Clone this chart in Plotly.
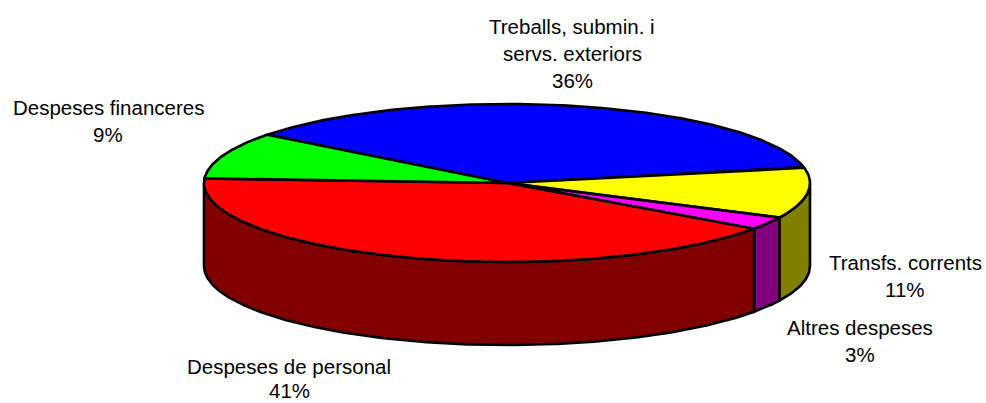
import math
import plotly.graph_objects as go

categories = ["Treballs, submin. i servs. exteriors", "Transfs. corrents", "Altres despeses",
              "Despeses de personal", "Despeses financeres"]
# slice shares as drawn in the picture, and the printed labels
shares = [36.3, 10.45, 2.6, 41.1, 9.55]
percent_labels = ["36%", "11%", "3%", "41%", "9%"]
top_colors = ["#0000FF", "#FFFF00", "#FF00FF", "#FF0000", "#00FF00"]
side_colors = ["#000080", "#808000", "#800080", "#800000", "#008000"]
label_lines = [["Treballs, submin. i", "servs. exteriors"], ["Transfs. corrents"], ["Altres despeses"],
               ["Despeses de personal"], ["Despeses financeres"]]
label_x = [572, 905, 860, 289, 108]
label_y = [26, 262, 327, 366, 107]
label_gap = [27, 27, 27, 24, 27]

CX, CY, RX, RY, DEPTH, START = 507, 183, 303, 79, 83, 217.7
FONT = "Liberation Sans"
OUTLINE = 2.6


def arc(a0, a1, dy=0):
    n = max(2, int(abs(a1 - a0) * 2) + 1)
    xs, ys = [], []
    for i in range(n):
        t = math.radians(a0 + (a1 - a0) * i / (n - 1))
        xs.append(CX + RX * math.cos(t))
        ys.append(CY + RY * math.sin(t) + dy)
    return xs, ys


fig = go.Figure()
total = sum(shares)
spans = []
a = START
for s in shares:
    b = a + s / total * 360
    spans.append((a, b))
    a = b

# side walls
for (a0, b0), col in zip(spans, side_colors):
    for k in (0, 360):
        lo, hi = max(a0, k), min(b0, k + 180)
        if hi > lo:
            x1, y1 = arc(lo, hi)
            x2, y2 = arc(hi, lo, DEPTH)
            fig.add_trace(go.Scatter(x=x1 + x2 + x1[:1], y=y1 + y2 + y1[:1], mode="lines", fill="toself",
                                     fillcolor=col, line=dict(color="black", width=OUTLINE), hoverinfo="skip"))

# top faces
for (a0, b0), col in zip(spans, top_colors):
    x1, y1 = arc(a0, b0)
    fig.add_trace(go.Scatter(x=[CX] + x1 + [CX], y=[CY] + y1 + [CY], mode="lines", fill="toself",
                             fillcolor=col, line=dict(color="black", width=OUTLINE), hoverinfo="skip"))

# labels
for lines, pct, lx, ly, gap in zip(label_lines, percent_labels, label_x, label_y, label_gap):
    for i, t in enumerate(lines + [pct]):
        fig.add_annotation(x=lx, y=ly + i * gap, text=t, showarrow=False, xanchor="center", yanchor="middle",
                           font=dict(family=FONT, size=20.5, color="black"))

fig.update_layout(width=986, height=403, margin=dict(l=0, r=0, t=0, b=0), showlegend=False,
                  paper_bgcolor="white", plot_bgcolor="white",
                  xaxis=dict(range=[0, 986], visible=False, fixedrange=True),
                  yaxis=dict(range=[403, 0], visible=False, fixedrange=True))
fig.write_html("out.html", config={"displayModeBar": False},
               post_script="document.body.style.margin='0';document.body.style.overflow='hidden';")
